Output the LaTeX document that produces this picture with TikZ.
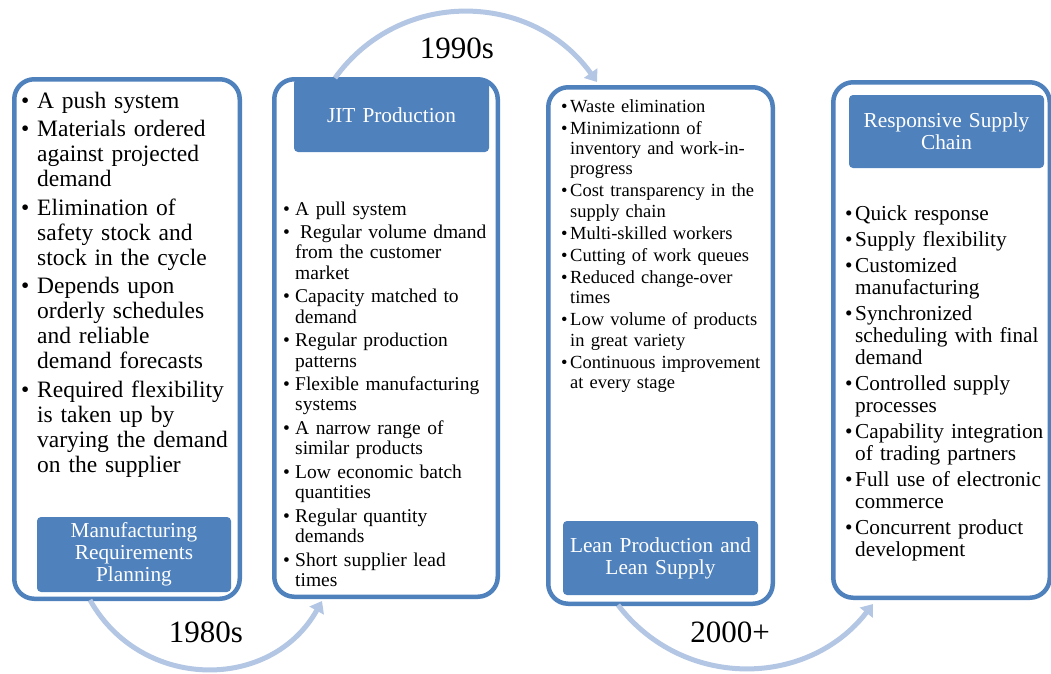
\documentclass[tikz,border=0pt]{standalone}
\usepackage{fontspec}
\setmainfont{Liberation Serif}
\usetikzlibrary{arrows.meta}
\definecolor{accent}{HTML}{4F81BD}
\definecolor{arrowc}{HTML}{B3C6E3}
\newlength{\bind}
\newcommand{\bfirst}[1]{\noindent\llap{\makebox[\bind][l]{\textbullet}}#1}
\newcommand{\bitem}[1]{\par\noindent\llap{\makebox[\bind][l]{\textbullet}}#1}
\newcommand{\listsetup}[2]{\setlength{\bind}{#1}\setlength{\leftskip}{#1}\setlength{\parskip}{#2}}
\tikzset{
  panel/.style={draw=accent, line width=4.5pt, fill=white, rounded corners=20pt, inner sep=0pt},
  titlebox/.style={fill=accent, rounded corners=4pt, inner sep=0pt, text=white, align=center,
     font=\fontsize{21.3}{22}\selectfont},
  blist/.style={inner sep=0pt, anchor=base west, align=left},
  flow/.style={draw=arrowc, line width=5pt, -{Triangle[width=16pt,length=11pt]}},
  year/.style={inner sep=0pt, font=\fontsize{31}{34}\selectfont}
}
\begin{document}
\begin{tikzpicture}[x=1pt,y=-1pt]
\useasboundingbox (0,0) rectangle (1051,673);
% panels
\node[panel, minimum width=225.5pt, minimum height=519.5pt] (p1) at (127,339) {};
\node[panel, minimum width=223.5pt, minimum height=517.5pt] (p2) at (386,338) {};
\node[panel, minimum width=224.5pt, minimum height=516.5pt] (p3) at (660.5,345.5) {};
\node[panel, minimum width=216.5pt, minimum height=515.5pt] (p4) at (941.5,340) {};
% title boxes
\node[titlebox, minimum width=194pt, minimum height=75pt, text width=194pt] (t1) at (134,554.5) {Manufacturing\\Requirements\\Planning};
\node[titlebox, minimum width=195pt, minimum height=73pt, text width=195pt] (t2) at (391.5,115.5) {JIT Production};
\node[titlebox, minimum width=195pt, minimum height=74pt, text width=195pt] (t3) at (660.5,558) {Lean Production and\\Lean Supply};
\node[titlebox, minimum width=195pt, minimum height=73pt, text width=195pt] (t4) at (946.5,131.5) {Responsive Supply\\Chain};
% lists
\node[blist, text width=221pt, font=\fontsize{23.5}{25}\selectfont] (l1) at (21,108) {\listsetup{16pt}{3.5pt}%
\bfirst{A push system}
\bitem{Materials ordered\newline against projected\newline demand}
\bitem{Elimination of\newline safety stock and\newline stock in the cycle}
\bitem{Depends upon\newline orderly schedules\newline and reliable\newline demand forecasts}
\bitem{Required flexibility\newline is taken up by\newline varying the demand\newline on the supplier}\par};
\node[blist, text width=212pt, font=\fontsize{19.5}{20.3}\selectfont] (l2) at (283,215) {\listsetup{12pt}{3.3pt}%
\bfirst{A pull system}
\bitem{\hspace{0.25em}Regular volume dmand\newline from the customer\newline market}
\bitem{Capacity matched to\newline demand}
\bitem{Regular production\newline patterns}
\bitem{Flexible manufacturing\newline systems}
\bitem{A narrow range of\newline similar products}
\bitem{Low economic batch\newline quantities}
\bitem{Regular quantity\newline demands}
\bitem{Short supplier lead\newline times}\par};
\node[blist, text width=212pt, font=\fontsize{18.5}{20.3}\selectfont] (l3) at (561,112) {\listsetup{9pt}{1.8pt}%
\bfirst{Waste elimination}
\bitem{Minimizationn of\newline inventory and work-in-\newline progress}
\bitem{Cost transparency in the\newline supply chain}
\bitem{Multi-skilled workers}
\bitem{Cutting of work queues}
\bitem{Reduced change-over\newline times}
\bitem{Low volume of products\newline in great variety}
\bitem{Continuous improvement\newline at every stage}\par};
\node[blist, text width=212pt, font=\fontsize{21.3}{22}\selectfont] (l4) at (845,220) {\listsetup{10pt}{4pt}%
\bfirst{Quick response}
\bitem{Supply flexibility}
\bitem{Customized\newline manufacturing}
\bitem{Synchronized\newline scheduling with final\newline demand}
\bitem{Controlled supply\newline processes}
\bitem{Capability integration\newline of trading partners}
\bitem{Full use of electronic\newline commerce}
\bitem{Concurrent product\newline development}\par};
% arrow end points
\coordinate (s80) at (90,600);
\coordinate (e80) at (322,601);
\coordinate (s90) at (335,78);
\coordinate (e90) at (597,82);
\coordinate (s00) at (618,605);
\coordinate (e00) at (873,604);
\draw[flow] (s80) .. controls (141,691) and (271,692) .. (e80);
\draw[flow] (s90) .. controls (400,-12) and (532,-9) .. (e90);
\draw[flow] (s00) .. controls (683,690) and (808,688) .. (e00);
% year labels
\node[year] (y80) at (206,632) {1980s};
\node[year] (y90) at (457,48) {1990s};
\node[year] (y00) at (730,632) {2000+};
\end{tikzpicture}
\end{document}
